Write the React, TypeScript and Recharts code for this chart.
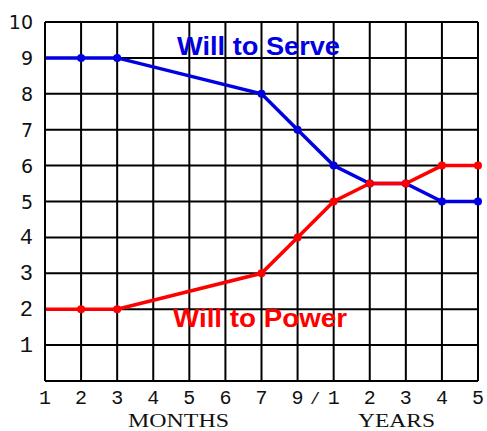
import React from "react";
import { LineChart, Line, XAxis, YAxis, CartesianGrid } from "recharts";

// x positions: months 1..7, 9, then years 1..5
const xLabels = ["1", "2", "3", "4", "5", "6", "7", "9", "1", "2", "3", "4", "5"];
const serveValues: (number | null)[] = [9, 9, 9, null, null, null, 8, 7, 6, 5.5, 5.5, 5, 5];
const powerValues: (number | null)[] = [2, 2, 2, null, null, null, 3, 4, 5, 5.5, 5.5, 6, 6];
const yTicks = [0, 1, 2, 3, 4, 5, 6, 7, 8, 9, 10];

const BLUE = "#0000e0";
const RED = "#ff0000";

const data = xLabels.map((label, i) => ({
    i,
    label,
    serve: serveValues[i],
    power: powerValues[i]
}));

const makeDot = (color: string) => (p: any) => {
    if (p.index === 0 || p.value == null || p.cy == null) {
        return <g key={`d-${color}-${p.index}`} />;
    }
    return <circle key={`d-${color}-${p.index}`} cx={p.cx} cy={p.cy} r={4} fill={color} stroke="none" />;
};

const XTick = (p: any) => (
    <text
        x={p.x}
        y={p.y + 23}
        textAnchor="middle"
        fontFamily="Liberation Mono"
        fontSize={20}
        fill="#111"
    >
        {xLabels[p.payload.value]}
    </text>
);

const YTick = (p: any) => {
    const v = p.payload.value;
    if (v === 0) return <g />;
    return (
        <text
            x={33}
            y={p.y}
            dy={7}
            textAnchor="end"
            fontFamily={v >= 5 ? "DejaVu Sans" : "Liberation Mono"}
            fontSize={v >= 5 ? 19 : 22}
            fill="#111"
        >
            {v}
        </text>
    );
};

export default function App() {
    return (
        <div style={{ position: "absolute", left: 0, top: 0, width: 487, height: 431, background: "#fff" }}>
            <LineChart width={487} height={431} data={data} margin={{ top: 22, right: 9, left: 0, bottom: 0 }}>
                <CartesianGrid stroke="#000" strokeWidth={2} strokeOpacity={1} />
                <XAxis
                    dataKey="i"
                    type="number"
                    domain={[0, 12]}
                    ticks={xLabels.map((_, i) => i)}
                    interval={0}
                    height={50}
                    tickSize={0}
                    tickMargin={0}
                    tickLine={false}
                    axisLine={{ stroke: "#000", strokeWidth: 2 }}
                    tick={<XTick />}
                />
                <YAxis
                    type="number"
                    domain={[0, 10]}
                    ticks={yTicks}
                    interval={0}
                    width={45}
                    tickSize={0}
                    tickMargin={0}
                    tickLine={false}
                    axisLine={{ stroke: "#000", strokeWidth: 2 }}
                    tick={<YTick />}
                />
                <Line
                    dataKey="serve"
                    type="linear"
                    stroke={BLUE}
                    strokeWidth={3.5}
                    connectNulls
                    dot={makeDot(BLUE)}
                    activeDot={false}
                    isAnimationActive={false}
                />
                <Line
                    dataKey="power"
                    type="linear"
                    stroke={RED}
                    strokeWidth={3.5}
                    connectNulls
                    dot={makeDot(RED)}
                    activeDot={false}
                    isAnimationActive={false}
                />
            </LineChart>
            <svg
                width={487}
                height={431}
                style={{ position: "absolute", left: 0, top: 0, pointerEvents: "none" }}
            >
                <text x={177} y={55} fontFamily="Liberation Sans" fontWeight="bold" fontSize={25}
                    fill={BLUE} textLength={163} lengthAdjust="spacingAndGlyphs">Will to Serve</text>
                <text x={173} y={327} fontFamily="Liberation Sans" fontWeight="bold" fontSize={25}
                    fill={RED} textLength={174} lengthAdjust="spacingAndGlyphs">Will to Power</text>
                <text x={315} y={404} textAnchor="middle" fontFamily="Liberation Mono" fontSize={17} fill="#111">/</text>
                <text x={128} y={427} fontFamily="Liberation Serif" fontSize={19} fill="#111"
                    textLength={101} lengthAdjust="spacingAndGlyphs">MONTHS</text>
                <text x={358} y={427} fontFamily="Liberation Serif" fontSize={19} fill="#111"
                    textLength={77} lengthAdjust="spacingAndGlyphs">YEARS</text>
            </svg>
        </div>
    );
}
